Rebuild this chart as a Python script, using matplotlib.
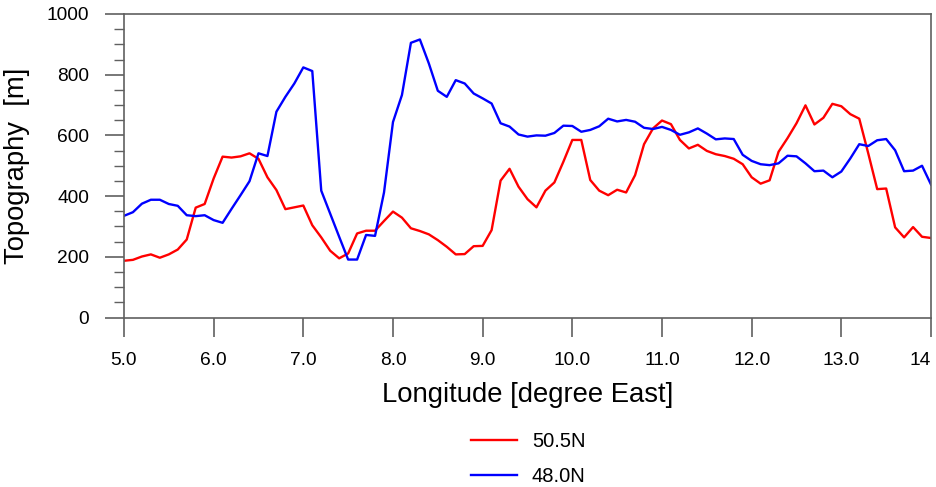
import numpy as np
import matplotlib
matplotlib.use("Agg")
import matplotlib.pyplot as plt
from matplotlib.ticker import MultipleLocator

plt.rcParams['font.family'] = ['Liberation Sans', 'DejaVu Sans']

# longitudes, 0.1 degree steps
lon = np.linspace(5.0, 14.0, 91)

# topography along 50.5N (red)
topo_505 = [187, 190, 201, 208, 197, 208, 224, 257, 362, 374,
            458, 530, 527, 531, 541, 523, 462, 420, 357, 363,
            369, 304, 264, 220, 195, 211, 277, 286, 286, 318,
            349, 329, 294, 285, 274, 255, 233, 208, 209, 235,
            236, 288, 451, 490, 431, 390, 363, 418, 445, 513,
            585, 585, 453, 418, 403, 421, 412, 469, 571, 623,
            649, 637, 585, 557, 569, 549, 538, 532, 523, 505,
            462, 441, 452, 546, 591, 640, 699, 636, 658, 704,
            696, 670, 655, 541, 423, 425, 297, 264, 298, 266,
            262]

# topography along 48.0N (blue)
topo_480 = [335, 347, 375, 388, 388, 374, 368, 337, 334, 337,
            321, 312, 358, 403, 449, 541, 532, 678, 727, 771,
            824, 812, 418, 342, 266, 191, 191, 272, 269, 412,
            644, 733, 905, 916, 837, 747, 727, 782, 771, 738,
            722, 705, 640, 629, 603, 596, 600, 599, 608, 632,
            631, 612, 618, 630, 655, 646, 651, 645, 625, 621,
            628, 618, 602, 610, 623, 606, 587, 590, 588, 536,
            516, 505, 502, 508, 533, 531, 508, 482, 484, 462,
            481, 524, 571, 565, 584, 588, 551, 482, 484, 500,
            438]

labels = ["50.5N", "48.0N"]
colors = ["red", "blue"]
xtick_vals = [5, 6, 7, 8, 9, 10, 11, 12, 13, 14]
xtick_text = ["5.0", "6.0", "7.0", "8.0", "9.0", "10.0", "11.0", "12.0", "13.0", "14"]

fig = plt.figure(figsize=(9.37, 4.87), dpi=100)
ax = fig.add_axes([0.1323, 0.348, 0.8613, 0.6233])

ax.plot(lon, topo_505, color=colors[0], lw=1.7, label=labels[0])
ax.plot(lon, topo_480, color=colors[1], lw=1.7, label=labels[1])

ax.set_xlim(5.0, 14.0)
ax.set_ylim(0, 1000)
ax.set_xticks(xtick_vals)
ax.set_xticklabels(xtick_text)
# last label is cut at the figure edge in the original, keep it inside
ax.get_xticklabels()[-1].set_horizontalalignment('right')
ax.yaxis.set_major_locator(MultipleLocator(200))
ax.yaxis.set_minor_locator(MultipleLocator(50))

gray = "#606060"
for s in ax.spines.values():
    s.set_color(gray)
    s.set_linewidth(1.2)
ax.tick_params(axis='both', which='major', direction='out', length=14,
               width=1.2, color=gray, labelsize=13.8, pad=11)
ax.tick_params(axis='y', which='minor', direction='out', length=7,
               width=1.0, color=gray)

ax.set_xlabel("Longitude [degree East]", fontsize=19.8, labelpad=9)
ax.set_ylabel("Topography  [m]", fontsize=19.7, labelpad=12)

fig.legend(loc='center', bbox_to_anchor=(0.564, 0.058), frameon=False,
           fontsize=14.5, handlelength=2.25, handletextpad=0.75,
           labelspacing=0.8, borderpad=0)

fig.savefig("out.png", dpi=100)
